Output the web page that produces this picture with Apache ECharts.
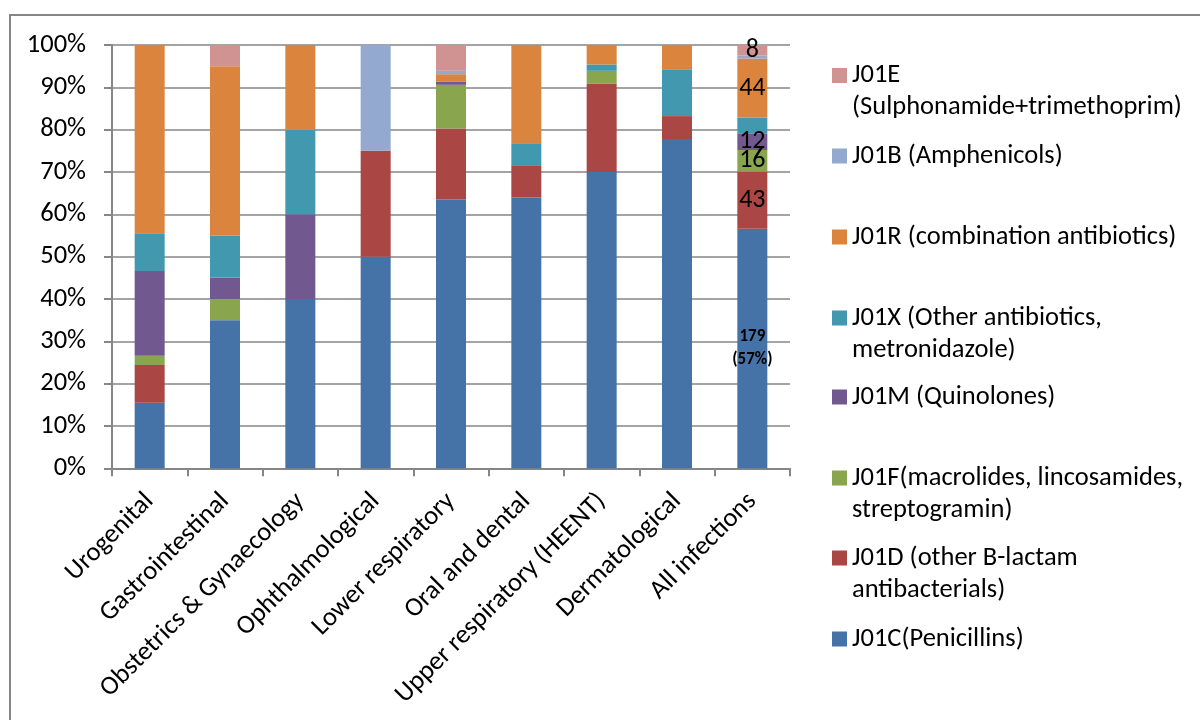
<!DOCTYPE html>
<html>
<head>
<meta charset="utf-8">
<script src="https://cdn.jsdelivr.net/npm/echarts@6/dist/echarts.min.js"></script>
<style>
html,body{margin:0;padding:0;background:#fff;}
#chart{width:1200px;height:720px;}
</style>
</head>
<body>
<div id="chart"></div>
<script>
// ---- data (percent of prescriptions per infection category) ----
var categories = ['Urogenital','Gastrointestinal','Obstetrics & Gynaecology','Ophthalmological','Lower respiratory','Oral and dental','Upper respiratory (HEENT)','Dermatological','All infections'];
var J01C = [15.5, 35, 40, 50, 63.5, 64, 70, 77.8, 56.6];
var J01D = [8.9, 0, 0, 25, 16.8, 7.6, 20.9, 5.4, 13.5];
var J01F = [2.2, 5, 0, 0, 10.3, 0, 3.0, 0, 5.1];
var J01M = [20, 5, 20, 0, 0.7, 0, 0, 0, 3.8];
var J01X = [8.9, 10, 20, 0, 0, 5.2, 1.5, 11.1, 3.8];
var J01R = [44.5, 40, 20, 0, 1.8, 23.2, 4.6, 5.7, 14.0];
var J01B = [0, 0, 0, 25, 0.8, 0, 0, 0, 0.7];
var J01E = [0, 5, 0, 0, 6.1, 0, 0, 0, 2.5];
var yTicks = [0,10,20,30,40,50,60,70,80,90,100];
// labels shown on the "All infections" bar (counts), bottom to top series order
var allInfectionLabels = ['179\n(57%)', '43', '16', '12', '', '44', '', '8'];

var seriesNames = ['J01C(Penicillins)','J01D (other B-lactam antibacterials)','J01F(macrolides, lincosamides, streptogramin)','J01M (Quinolones)','J01X (Other antibiotics, metronidazole)','J01R (combination antibiotics)','J01B (Amphenicols)','J01E (Sulphonamide+trimethoprim)'];
var legendLines = [
  ['J01C(Penicillins)'],
  ['J01D (other B-lactam','antibacterials)'],
  ['J01F(macrolides, lincosamides,','streptogramin)'],
  ['J01M (Quinolones)'],
  ['J01X (Other antibiotics,','metronidazole)'],
  ['J01R (combination antibiotics)'],
  ['J01B (Amphenicols)'],
  ['J01E','(Sulphonamide+trimethoprim)']
];
var seriesValues = [J01C, J01D, J01F, J01M, J01X, J01R, J01B, J01E];
var colors = ['#4572A7','#AA4643','#89A54E','#71588F','#4198AF','#DB843D','#93A9CF','#D19392'];

var FONT = "Carlito, 'Open Sans', 'Noto Sans', sans-serif";
var FS = 26.5;
var LH = 32;

var series = seriesValues.map(function(vals, si){
  return {
    name: seriesNames[si],
    type: 'bar',
    stack: 'total',
    barWidth: 30,
    itemStyle: {color: colors[si]},
    data: vals.map(function(v, ci){
      var item = {value: v};
      if (ci === categories.length - 1 && allInfectionLabels[si]) {
        var bold = si === 0;
        item.label = {
          show: true,
          position: 'inside',
          formatter: allInfectionLabels[si],
          color: '#000',
          fontFamily: FONT,
          fontSize: bold ? 17 : 26,
          fontWeight: bold ? 'bold' : 'normal',
          lineHeight: bold ? 23 : 26
        };
      }
      return item;
    })
  };
});

// legends: one per series, top-to-bottom reversed order
var legendCenters = [639, 558, 478, 397, 318, 237, 156, 75.5];
var legends = seriesNames.map(function(name, si){
  var lines = legendLines[si];
  var text = lines.length > 1 ? '\n' + lines.join('\n') : lines[0];
  var top = lines.length > 1 ? legendCenters[si] - 1.5 * LH : legendCenters[si] - LH / 2;
  return {
    orient: 'vertical',
    left: 832,
    top: top,
    padding: 0,
    itemWidth: 15,
    itemHeight: 15,
    icon: 'rect',
    selectedMode: false,
    data: [name],
    formatter: function(){ return text; },
    textStyle: {fontFamily: FONT, fontSize: FS, lineHeight: LH, color: '#000'}
  };
});

var chart = echarts.init(document.getElementById('chart'), null, {renderer: 'canvas'});
chart.setOption({
  animation: false,
  color: colors,
  graphic: [{
    type: 'rect',
    shape: {x: 10, y: 15, width: 1210, height: 730},
    style: {fill: 'none', stroke: '#868686', lineWidth: 2},
    silent: true
  }],
  legend: legends,
  grid: {left: 112, top: 45, width: 678, height: 423.3, containLabel: false},
  xAxis: {
    type: 'category',
    data: categories,
    axisLine: {lineStyle: {color: '#868686', width: 2}},
    axisTick: {show: true, length: 8, inside: false, alignWithLabel: false, interval: 0, lineStyle: {color: '#868686', width: 2}},
    axisLabel: {interval: 0, rotate: 45, margin: 29, color: '#000', fontFamily: FONT, fontSize: FS}
  },
  yAxis: {
    type: 'value',
    min: 0, max: 100, interval: 10,
    axisLine: {show: true, lineStyle: {color: '#868686', width: 2}},
    axisTick: {show: true, length: 8, lineStyle: {color: '#868686', width: 2}},
    splitLine: {show: true, lineStyle: {color: '#868686', width: 1.5}},
    axisLabel: {
      margin: 26, color: '#000', fontFamily: FONT, fontSize: FS,
      formatter: function(v){ return yTicks.indexOf(v) >= 0 ? v + '%' : ''; }
    }
  },
  series: series
});
</script>
</body>
</html>
